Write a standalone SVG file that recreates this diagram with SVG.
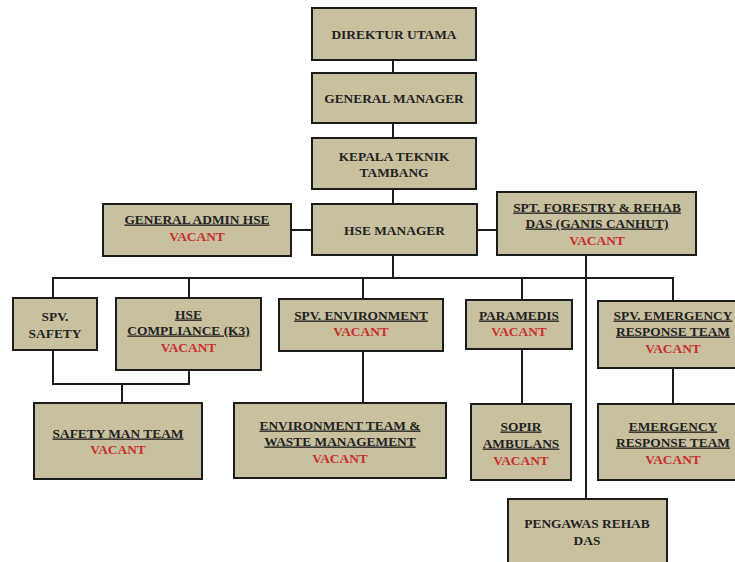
<svg xmlns="http://www.w3.org/2000/svg" width="735" height="562" viewBox="0 0 735 562">
<style>
.box{fill:#c9c0a0;stroke:#1c1c1c;stroke-width:2}
.t{font-family:"Liberation Serif","Times New Roman",serif;font-weight:bold;font-size:13.4px;fill:#222;text-anchor:middle}
.u{text-decoration:underline}
.v{fill:#c8302b}
.c{fill:none;stroke:#1c1c1c;stroke-width:2}
</style>
<rect width="735" height="562" fill="#fff"/>
<g id="connectors">
<path class="c" d="M393 60V73M393 123V138M393 189V204M393 255V278M291 230H312M477 230H497"/>
<path class="c" d="M53 298V278H673V301M189 278V298M363 278V299M522 278V300"/>
<path class="c" d="M586 255V499"/>
<path class="c" d="M53 350V384H189V370M122 384V403"/>
<path class="c" d="M363 351V403M522 349V404M673 368V404"/>
</g>
<g id="direktur-utama"><rect class="box" x="312" y="8" width="164" height="52"/><text class="t" x="394" y="38.5">DIREKTUR UTAMA</text></g>
<g id="general-manager"><rect class="box" x="312" y="73" width="164" height="50"/><text class="t" x="394" y="102.5">GENERAL MANAGER</text></g>
<g id="kepala-teknik"><rect class="box" x="312" y="138" width="164" height="51"/><text class="t" x="394" y="160.5">KEPALA TEKNIK</text><text class="t" x="394" y="176.5">TAMBANG</text></g>
<g id="hse-manager"><rect class="box" x="312" y="204" width="165" height="51"/><text class="t" x="394.5" y="234.5">HSE MANAGER</text></g>
<g id="general-admin-hse"><rect class="box" x="103" y="204" width="188" height="52"/><text class="t u" x="197" y="223.5">GENERAL ADMIN HSE</text><text class="t v" x="197" y="240.5">VACANT</text></g>
<g id="spt-forestry"><rect class="box" x="497" y="192" width="199" height="63"/><text class="t u" x="597" y="211.5">SPT. FORESTRY &amp; REHAB</text><text class="t u" x="597" y="227.5">DAS (GANIS CANHUT)</text><text class="t v" x="597" y="244.5">VACANT</text></g>
<g id="spv-safety"><rect class="box" x="13" y="298" width="84" height="52"/><text class="t" x="55" y="320.5">SPV.</text><text class="t" x="55" y="337.5">SAFETY</text></g>
<g id="hse-compliance"><rect class="box" x="116" y="298" width="145" height="72"/><text class="t u" x="188.5" y="318.5">HSE</text><text class="t u" x="188.5" y="334.5">COMPLIANCE (K3)</text><text class="t v" x="188.5" y="351.5">VACANT</text></g>
<g id="spv-environment"><rect class="box" x="279" y="299" width="164" height="52"/><text class="t u" x="361" y="319.5">SPV. ENVIRONMENT</text><text class="t v" x="361" y="335.5">VACANT</text></g>
<g id="paramedis"><rect class="box" x="466" y="300" width="106" height="49"/><text class="t u" x="519" y="319.5">PARAMEDIS</text><text class="t v" x="519" y="335.5">VACANT</text></g>
<g id="spv-emergency"><rect class="box" x="598" y="301" width="150" height="67"/><text class="t u" x="673" y="319.5">SPV. EMERGENCY</text><text class="t u" x="673" y="335.5">RESPONSE TEAM</text><text class="t v" x="673" y="352.5">VACANT</text></g>
<g id="safety-man-team"><rect class="box" x="34" y="403" width="168" height="76"/><text class="t u" x="118" y="437.5">SAFETY MAN TEAM</text><text class="t v" x="118" y="453.5">VACANT</text></g>
<g id="environment-team"><rect class="box" x="234" y="403" width="212" height="75"/><text class="t u" x="340" y="429.5">ENVIRONMENT TEAM &amp;</text><text class="t u" x="340" y="445.5">WASTE MANAGEMENT</text><text class="t v" x="340" y="462.5">VACANT</text></g>
<g id="sopir-ambulans"><rect class="box" x="471" y="404" width="100" height="76"/><text class="t u" x="521" y="430.5">SOPIR</text><text class="t u" x="521" y="447.5">AMBULANS</text><text class="t v" x="521" y="464.5">VACANT</text></g>
<g id="emergency-response-team"><rect class="box" x="598" y="404" width="150" height="76"/><text class="t u" x="673" y="430.5">EMERGENCY</text><text class="t u" x="673" y="446.5">RESPONSE TEAM</text><text class="t v" x="673" y="463.5">VACANT</text></g>
<g id="pengawas-rehab-das"><rect class="box" x="508" y="499" width="159" height="70"/><text class="t" x="587" y="527.5">PENGAWAS REHAB</text><text class="t" x="587" y="544.5">DAS</text></g>
</svg>
